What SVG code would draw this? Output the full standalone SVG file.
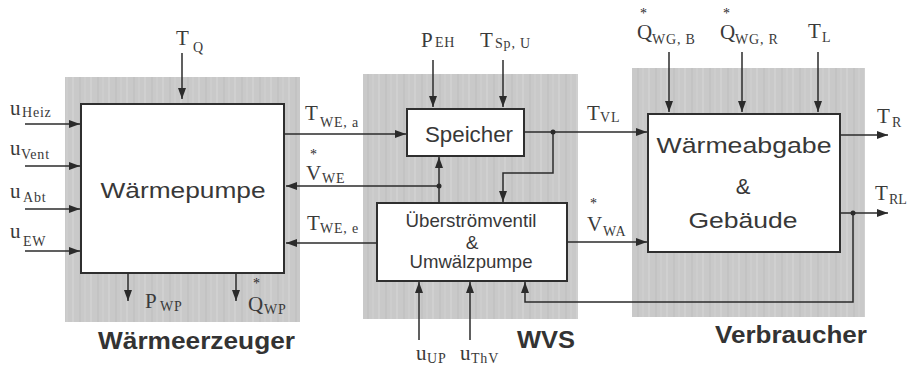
<svg xmlns="http://www.w3.org/2000/svg" width="907" height="368" viewBox="0 0 907 368">
<defs>
<pattern id="stripes" width="18" height="10" patternUnits="userSpaceOnUse">
<rect width="18" height="10" fill="#c9c9c9"/>
<line x1="1" y1="0" x2="1" y2="10" stroke="#d8d8d8" stroke-width="1"/>
<line x1="8" y1="0" x2="8" y2="10" stroke="#bdbdbd" stroke-width="1"/>
<line x1="13" y1="0" x2="13" y2="10" stroke="#d2d2d2" stroke-width="1"/>
</pattern>
<marker id="ah" markerWidth="11" markerHeight="8" refX="11" refY="4" orient="auto" markerUnits="userSpaceOnUse">
<path d="M0,0 L11,4 L0,8 Z" fill="#2b2b2b"/>
</marker>
</defs>
<style>
.panel{fill:url(#stripes);}
.box{fill:#ffffff;stroke:#2f2f2f;stroke-width:2;}
.conn{fill:none;stroke:#2b2b2b;stroke-width:1.5;}
.arr{marker-end:url(#ah);}
.dot{fill:#2b2b2b;}
.blk{font-family:"Liberation Sans",Arial,sans-serif;font-size:22px;fill:#383838;text-anchor:middle;}
.ttl{font-family:"Liberation Sans",Arial,sans-serif;font-size:23px;font-weight:bold;fill:#333;}
.lb{font-family:"Liberation Serif","Times New Roman",serif;font-size:21px;fill:#3a3a3a;}
.sb{font-family:"Liberation Serif","Times New Roman",serif;font-size:14px;fill:#3a3a3a;letter-spacing:0.8px;}
.st{font-family:"Liberation Serif","Times New Roman",serif;font-size:14px;fill:#2a2a2a;}
</style>

<rect class="panel" x="65" y="77" width="235" height="245"/>
<rect class="panel" x="363" y="74" width="215" height="245"/>
<rect class="panel" x="632" y="68" width="233" height="249"/>

<g id="waermepumpe">
<rect class="box" x="81" y="104" width="203" height="169"/>
<text class="blk" x="183" y="198" textLength="165" lengthAdjust="spacingAndGlyphs">Wärmepumpe</text>
</g>
<g id="speicher">
<rect class="box" x="407" y="109" width="117" height="47"/>
<text class="blk" x="469" y="142" font-size="21" textLength="88" lengthAdjust="spacingAndGlyphs">Speicher</text>
</g>
<g id="ueberstroemventil">
<rect class="box" x="377" y="203" width="190" height="78"/>
<text class="blk" x="471" y="227" style="font-size:19px" textLength="131" lengthAdjust="spacingAndGlyphs">Überströmventil</text>
<text class="blk" x="472" y="249" style="font-size:19px">&amp;</text>
<text class="blk" x="471" y="268" style="font-size:19px" textLength="123" lengthAdjust="spacingAndGlyphs">Umwälzpumpe</text>
</g>
<g id="waermeabgabe">
<rect class="box" x="648" y="114" width="192" height="138"/>
<text class="blk" x="744" y="153" textLength="175" lengthAdjust="spacingAndGlyphs">Wärmeabgabe</text>
<text class="blk" x="743" y="194">&amp;</text>
<text class="blk" x="743" y="228" textLength="109" lengthAdjust="spacingAndGlyphs">Gebäude</text>
</g>

<g id="titles">
<text class="ttl" x="98" y="349" textLength="197" lengthAdjust="spacingAndGlyphs">Wärmeerzeuger</text>
<text class="ttl" x="517" y="348" textLength="58" lengthAdjust="spacingAndGlyphs">WVS</text>
<text class="ttl" x="715" y="343" textLength="152" lengthAdjust="spacingAndGlyphs">Verbraucher</text>
</g>

<g id="connectors">
<path class="conn arr" d="M182,53 V99"/>
<path class="conn arr" d="M25,124 H80"/>
<path class="conn arr" d="M25,166 H80"/>
<path class="conn arr" d="M25,209 H80"/>
<path class="conn arr" d="M25,251 H80"/>
<path class="conn arr" d="M284,134 H406"/>
<path class="conn arr" d="M439,186 H286"/>
<path class="conn arr" d="M439,203 V157"/>
<path class="conn arr" d="M377,243 H286"/>
<path class="conn arr" d="M128,273 V301"/>
<path class="conn arr" d="M236,273 V301"/>
<path class="conn arr" d="M433,60 V107"/>
<path class="conn arr" d="M503,60 V107"/>
<path class="conn arr" d="M524,132 H647"/>
<path class="conn arr" d="M553,132 V173 H503 V202"/>
<path class="conn arr" d="M567,242 H647"/>
<path class="conn arr" d="M669,52 V112"/>
<path class="conn arr" d="M742,52 V112"/>
<path class="conn arr" d="M818,52 V112"/>
<path class="conn arr" d="M840,135 H888"/>
<path class="conn arr" d="M840,213 H888"/>
<path class="conn arr" d="M853,213 V302 H525 V282"/>
<path class="conn arr" d="M419,340 V282"/>
<path class="conn arr" d="M470,340 V282"/>
<circle class="dot" cx="553" cy="132" r="2.5"/>
<circle class="dot" cx="439" cy="186" r="2.5"/>
<circle class="dot" cx="853" cy="213" r="2.5"/>
</g>

<g id="labels">
<text class="lb" x="176" y="45">T</text><text class="sb" x="193" y="52">Q</text>
<text class="lb" x="10" y="115">u</text><text class="sb" x="22" y="117">Heiz</text>
<text class="lb" x="10" y="155">u</text><text class="sb" x="21" y="159">Vent</text>
<text class="lb" x="10" y="198">u</text><text class="sb" x="23" y="202">Abt</text>
<text class="lb" x="10" y="238">u</text><text class="sb" x="23" y="246">EW</text>
<text class="lb" x="305" y="120">T</text><text class="sb" x="320" y="127">WE, a</text>
<text class="st" x="310" y="159">*</text><text class="lb" x="306" y="180">V</text><text class="sb" x="322" y="183">WE</text>
<text class="lb" x="307" y="230">T</text><text class="sb" x="320" y="233">WE, e</text>
<text class="lb" x="145" y="308">P</text><text class="sb" x="160" y="311">WP</text>
<text class="st" x="253" y="288">*</text><text class="lb" x="248" y="311">Q</text><text class="sb" x="264" y="314">WP</text>
<text class="lb" x="421" y="47">P</text><text class="sb" x="435" y="47">EH</text>
<text class="lb" x="480" y="47">T</text><text class="sb" x="495" y="48">Sp, U</text>
<text class="lb" x="587" y="120">T</text><text class="sb" x="600" y="122">VL</text>
<text class="st" x="590" y="208">*</text><text class="lb" x="587" y="231">V</text><text class="sb" x="603" y="236">WA</text>
<text class="st" x="640" y="18">*</text><text class="lb" x="637" y="39">Q</text><text class="sb" x="652" y="44">WG, B</text>
<text class="st" x="723" y="18">*</text><text class="lb" x="720" y="39">Q</text><text class="sb" x="735" y="44">WG, R</text>
<text class="lb" x="808" y="38">T</text><text class="sb" x="822" y="42">L</text>
<text class="lb" x="877" y="123">T</text><text class="sb" x="892" y="127">R</text>
<text class="lb" x="875" y="200">T</text><text class="sb" x="889" y="204" style="letter-spacing:0">RL</text>
<text class="lb" x="416" y="360">u</text><text class="sb" x="427" y="363">UP</text>
<text class="lb" x="460" y="360">u</text><text class="sb" x="471" y="363">ThV</text>
</g>
</svg>
